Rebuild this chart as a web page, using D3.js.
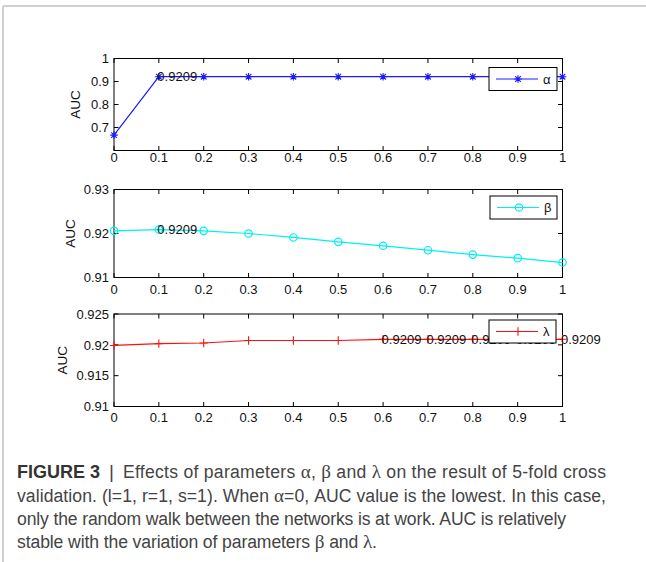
<!DOCTYPE html>
<html><head><meta charset="utf-8">
<script src="https://cdn.jsdelivr.net/npm/d3@7"></script>
<style>
html,body{margin:0;padding:0;background:#fff;}
svg{display:block;}
</style></head>
<body>
<script>
// ---- data ----
const xValues = [0, 0.1, 0.2, 0.3, 0.4, 0.5, 0.6, 0.7, 0.8, 0.9, 1];
const xTicks = [0, 0.1, 0.2, 0.3, 0.4, 0.5, 0.6, 0.7, 0.8, 0.9, 1];
const alphaAUC = [0.667, 0.9209, 0.9209, 0.9209, 0.9209, 0.9209, 0.9209, 0.9209, 0.9209, 0.9209, 0.9209];
const betaAUC = [0.9206, 0.9209, 0.9206, 0.9200, 0.9191, 0.9181, 0.9172, 0.9162, 0.9152, 0.9144, 0.9134];
const lambdaAUC = [0.9199, 0.9202, 0.9203, 0.9207, 0.9207, 0.9207, 0.9209, 0.9209, 0.9209, 0.9209, 0.9209];
const alphaTicks = [0.7, 0.8, 0.9, 1];
const betaTicks = [0.91, 0.92, 0.93];
const lambdaTicks = [0.91, 0.915, 0.92, 0.925];
const alphaDomain = [0.6, 1];
const betaDomain = [0.91, 0.93];
const lambdaDomain = [0.91, 0.925];
const alphaLabelIdx = [1];
const betaLabelIdx = [1];
const lambdaLabelIdx = [6, 7, 8, 9, 10];
const pointLabel = "0.9209";
const yTitle = "AUC";
const captionHead = "FIGURE 3";
const captionSep = "|";
const captionLines = [
  "Effects of parameters \u03b1, \u03b2 and \u03bb on the result of 5-fold cross",
  "validation. (l=1, r=1, s=1). When \u03b1=0, AUC value is the lowest. In this case,",
  "only the random walk between the networks is at work. AUC is relatively",
  "stable with the variation of parameters \u03b2 and \u03bb."
];

// ---- layout ----
const W = 646, H = 562;
const FONT = "'Liberation Sans', Arial, Helvetica, sans-serif";
const SERIF = "'Liberation Serif', 'Times New Roman', serif";
const svg = d3.select("body").append("svg").attr("width", W).attr("height", H);

// outer light frame
svg.append("line").attr("x1", 3).attr("x2", W).attr("y1", 6).attr("y2", 6).attr("stroke", "#d0d0d0").attr("stroke-width", 2);
svg.append("line").attr("x1", 3).attr("x2", 3).attr("y1", 6).attr("y2", H).attr("stroke", "#d0d0d0").attr("stroke-width", 2);

const x = d3.scaleLinear().domain([0, 1]).range([114, 562.5]);

const panels = [
  {values: alphaAUC, ticks: alphaTicks, domain: alphaDomain, top: 58.5, bottom: 150.5, color: "#1a1aff", marker: "star",
   name: "\u03b1", labels: alphaLabelIdx, legTop: 67.5, legLeft: 489, legRight: 557, xlabBase: 161.5, yTitleX: 80},
  {values: betaAUC, ticks: betaTicks, domain: betaDomain, top: 189.5, bottom: 277.5, color: "#00f0f0", marker: "circle",
   name: "\u03b2", labels: betaLabelIdx, legTop: 196, legLeft: 490, legRight: 557, xlabBase: 294, yTitleX: 75},
  {values: lambdaAUC, ticks: lambdaTicks, domain: lambdaDomain, top: 314, bottom: 406.5, color: "#ff1010", marker: "plus",
   name: "\u03bb", labels: lambdaLabelIdx, legTop: 320, legLeft: 489, legRight: 556, xlabBase: 422, yTitleX: 67}
];

function drawMarker(g, type, cx, cy, color) {
  if (type === "star") {
    const s = 3.8, d = 2.8;
    const p = `M${cx - s},${cy}L${cx + s},${cy}M${cx},${cy - s}L${cx},${cy + s}M${cx - d},${cy - d}L${cx + d},${cy + d}M${cx - d},${cy + d}L${cx + d},${cy - d}`;
    g.append("path").attr("d", p).attr("stroke", color).attr("stroke-width", 1.1).attr("fill", "none");
  } else if (type === "circle") {
    g.append("circle").attr("cx", cx).attr("cy", cy).attr("r", 3.7).attr("stroke", color).attr("stroke-width", 1.2).attr("fill", "none");
  } else {
    const s = 4.2;
    const p = `M${cx - s},${cy}L${cx + s},${cy}M${cx},${cy - s}L${cx},${cy + s}`;
    g.append("path").attr("d", p).attr("stroke", color).attr("stroke-width", 1.1).attr("fill", "none");
  }
}

panels.forEach(p => {
  const y = d3.scaleLinear().domain(p.domain).range([p.bottom, p.top]);
  const g = svg.append("g");
  const x0 = x.range()[0], x1 = x.range()[1];

  g.append("rect").attr("x", x0).attr("y", p.top).attr("width", x1 - x0).attr("height", p.bottom - p.top)
    .attr("fill", "none").attr("stroke", "#000").attr("stroke-width", 1);

  const tl = 4.5;
  xTicks.forEach(t => {
    const xx = x(t);
    g.append("line").attr("x1", xx).attr("x2", xx).attr("y1", p.bottom).attr("y2", p.bottom - tl).attr("stroke", "#000");
    g.append("line").attr("x1", xx).attr("x2", xx).attr("y1", p.top).attr("y2", p.top + tl).attr("stroke", "#000");
    g.append("text").attr("x", xx).attr("y", p.xlabBase).attr("text-anchor", "middle")
      .attr("font-family", FONT).attr("font-size", 13).attr("fill", "#111").text(String(t));
  });
  p.ticks.forEach(t => {
    const yy = y(t);
    g.append("line").attr("x1", x0).attr("x2", x0 + tl).attr("y1", yy).attr("y2", yy).attr("stroke", "#000");
    g.append("line").attr("x1", x1).attr("x2", x1 - tl).attr("y1", yy).attr("y2", yy).attr("stroke", "#000");
    g.append("text").attr("x", x0 - 5).attr("y", yy).attr("dy", "0.36em").attr("text-anchor", "end")
      .attr("font-family", FONT).attr("font-size", 13).attr("fill", "#111").text(String(t));
  });
  const ym = (p.top + p.bottom) / 2;
  g.append("text").attr("transform", `translate(${p.yTitleX},${ym}) rotate(-90)`).attr("text-anchor", "middle")
    .attr("font-family", FONT).attr("font-size", 13.5).attr("fill", "#111").text(yTitle);

  const line = d3.line().x((d, i) => x(xValues[i])).y(d => y(d));
  g.append("path").datum(p.values).attr("d", line).attr("fill", "none").attr("stroke", p.color).attr("stroke-width", 1.2);
  p.values.forEach((v, i) => drawMarker(g, p.marker, x(xValues[i]), y(v), p.color));

  p.labels.forEach(i => {
    g.append("text").attr("x", x(xValues[i]) - 1.5).attr("y", y(p.values[i])).attr("dy", "0.36em")
      .attr("font-family", FONT).attr("font-size", 13).attr("fill", "#111").text(pointLabel);
  });

  const lh = 23;
  const lg = svg.append("g");
  lg.append("rect").attr("x", p.legLeft).attr("y", p.legTop).attr("width", p.legRight - p.legLeft).attr("height", lh)
    .attr("fill", "#fff").attr("stroke", "#000").attr("stroke-width", 1);
  const ly = p.legTop + lh / 2;
  lg.append("line").attr("x1", p.legLeft + 7).attr("x2", p.legLeft + 49).attr("y1", ly).attr("y2", ly)
    .attr("stroke", p.color).attr("stroke-width", 1.2);
  drawMarker(lg, p.marker, p.legLeft + 29, ly, p.color);
  lg.append("text").attr("x", p.legLeft + 54).attr("y", ly).attr("dy", "0.36em")
    .attr("font-family", FONT).attr("font-size", 13).attr("fill", "#111").text(p.name);
});

// caption
const cap = svg.append("g");
const capTop = 478.3, capStep = 23.3, capSize = 17.6;
const lineStarts = [123, 17, 17, 17];
const lineEnds = [606, 606, 566, 377];
cap.append("text").attr("x", 17).attr("y", capTop).attr("font-family", FONT).attr("font-size", 18)
  .attr("font-weight", "bold").attr("fill", "#333").text(captionHead);
cap.append("text").attr("x", 109).attr("y", capTop).attr("font-family", FONT).attr("font-size", 19)
  .attr("fill", "#444").text(captionSep);
captionLines.forEach((s, i) => {
  const t = cap.append("text").attr("x", lineStarts[i]).attr("y", capTop + i * capStep)
    .attr("font-family", FONT).attr("font-size", capSize).attr("fill", "#444");
  s.split(/([\u03b1\u03b2\u03bb])/).forEach(seg => {
    if (!seg) return;
    const sp = t.append("tspan").text(seg);
    if (/[\u03b1\u03b2\u03bb]/.test(seg)) sp.attr("font-family", SERIF).attr("font-size", capSize + 1.5);
  });
  const w = t.node().getComputedTextLength();
  const target = lineEnds[i] - lineStarts[i];
  const ls = (target - w) / Math.max(1, s.length - 1);
  t.attr("letter-spacing", ls.toFixed(3));
});
</script>
</body></html>
